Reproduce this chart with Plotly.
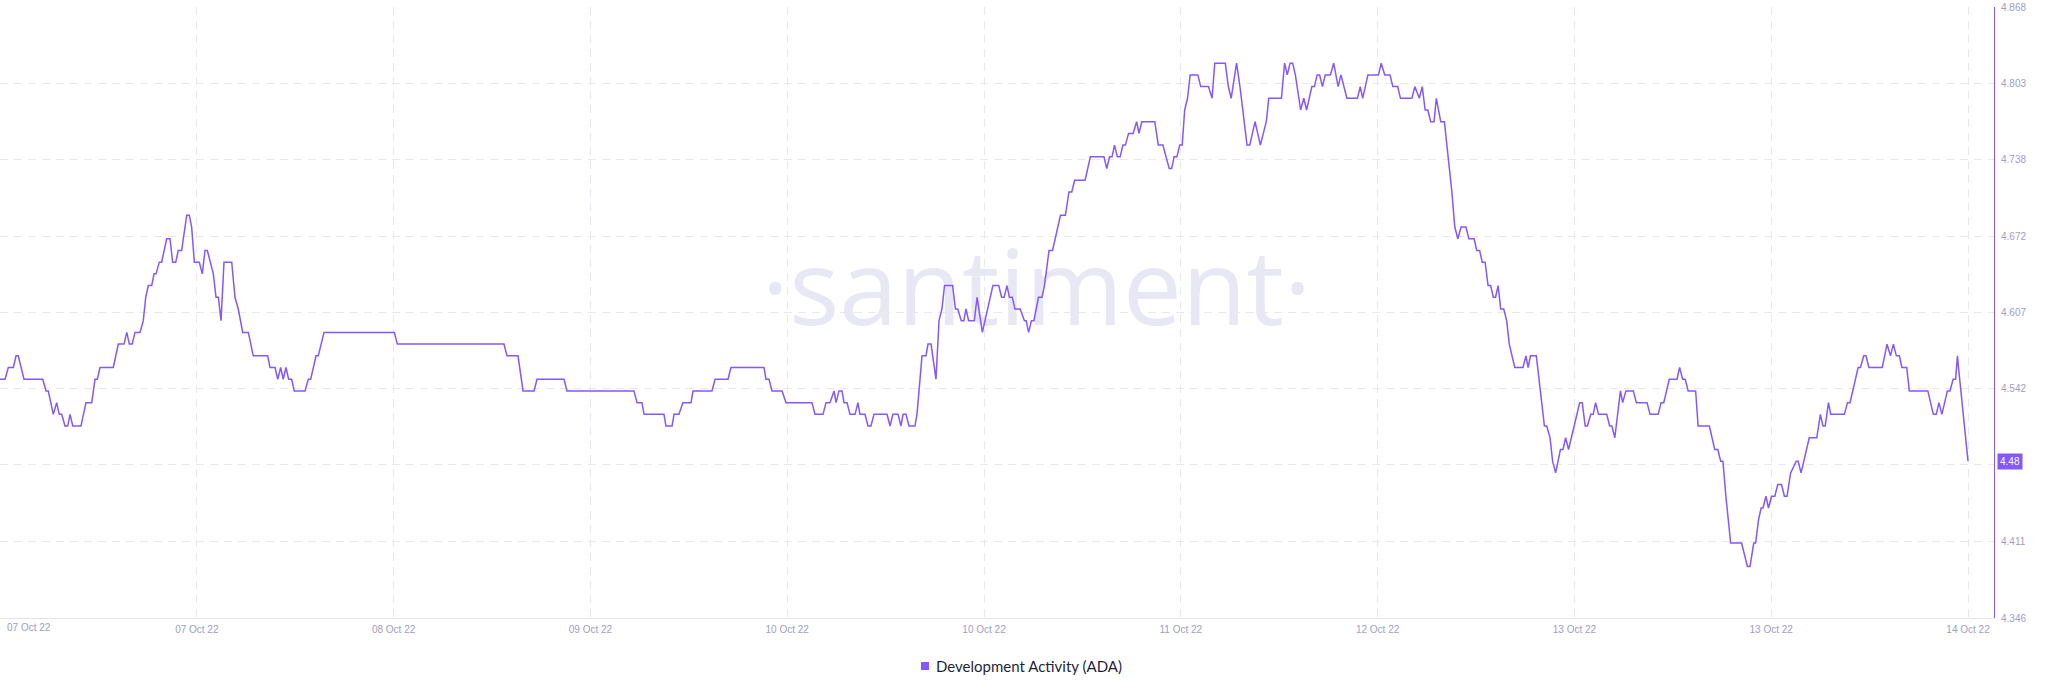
import pandas as pd
import plotly.graph_objects as go

# ---------------- data ----------------
START = "2022-10-07 06:00"

hours = [
    0.00, 0.43, 0.71, 1.14, 1.37, 1.56, 2.05, 3.65, 3.93, 4.12, 4.55, 4.84, 5.06, 5.27, 5.55, 5.78,
    5.98, 6.21, 6.91, 7.34, 7.83, 8.11, 8.31, 8.54, 9.67, 10.10, 10.59, 10.82, 11.04, 11.29, 11.52,
    11.95, 12.23, 12.44, 12.66, 12.95, 13.15, 13.32, 13.60, 13.80, 14.23, 14.51, 14.74, 15.00, 15.22,
    15.51, 15.65, 15.94, 16.16, 16.36, 16.59, 17.01, 17.27, 17.50, 17.70, 17.93, 18.21, 18.44, 18.64,
    18.87, 19.12, 19.78, 20.06, 20.34, 20.72, 21.20, 21.62, 22.85, 23.05, 23.48, 23.71, 23.96, 24.18,
    24.41, 24.64, 24.90, 25.12, 26.04, 26.32, 26.52, 26.98, 27.17, 27.66, 33.66, 33.92,
    43.02, 43.28, 44.22, 44.48, 44.65, 45.59, 45.84, 48.15, 48.40, 54.12, 54.38, 54.80, 54.98, 56.68,
    56.85, 57.37, 57.54, 57.96, 58.30, 58.99, 59.16, 60.78, 61.04, 62.15, 62.40, 65.22, 65.39, 65.65,
    65.90, 66.76, 67.10, 69.32, 69.57, 70.26, 70.51, 70.85, 71.20, 71.37, 71.62, 71.88, 72.05, 72.31,
    72.56, 72.99, 73.24, 73.41, 73.84, 74.10, 74.35, 74.61, 75.72, 75.98, 76.23, 76.66, 76.91, 77.09,
    77.34, 77.60, 78.11, 78.28, 78.71, 79.05, 79.22, 79.48, 79.90, 80.16, 80.41, 80.63,
    81.32, 81.56, 81.76, 82.06, 82.28, 82.46, 82.69, 83.17, 83.41, 83.86, 84.76, 85.26, 85.50, 85.72,
    85.96, 86.17, 86.41, 86.65, 87.09, 87.45, 87.60, 87.81, 88.05, 88.26, 88.65, 88.95, 89.16, 89.55,
    89.85, 90.53, 90.95, 91.25, 91.49, 91.74, 92.63, 93.08, 94.24, 94.48, 94.72, 94.93, 95.14, 95.38,
    95.62, 95.86, 96.07, 96.34, 96.73, 97.03, 97.23, 97.47, 98.58, 98.88, 99.27, 99.81, 100.02, 100.23,
    100.47, 100.71, 100.92, 101.13, 101.37, 101.60, 102.26, 102.50, 103.16, 103.47, 103.70, 104.60,
    104.86, 105.10, 105.56, 105.85, 106.45, 106.69, 107.14, 107.59, 108.10, 108.31, 109.39, 109.66,
    109.89, 110.13, 110.35, 110.58, 111.03, 111.30, 111.54, 111.99, 112.20, 112.44, 112.65, 112.89,
    113.13, 113.57, 113.85, 114.23, 114.47, 114.98, 115.88, 116.12, 116.33, 116.77, 117.67, 117.91,
    118.21, 118.66, 118.90, 119.32, 119.55, 120.53, 120.78, 121.16, 121.41, 121.66, 121.89, 122.13,
    122.42, 122.61, 122.99, 123.30, 123.62, 123.94, 124.19, 124.45, 124.73, 125.14, 125.39, 125.84,
    126.06, 126.31, 126.53, 126.78, 127.03, 127.25, 127.48, 127.67, 127.89, 128.11, 128.37, 128.62,
    128.84, 129.31, 130.01, 130.26, 130.45, 130.65, 131.15, 131.47, 131.84, 132.04, 132.32, 132.54,
    132.80, 133.21, 133.43, 133.65, 133.90, 134.38, 134.85, 135.07, 135.32, 135.51, 135.80, 136.01,
    136.21, 136.46, 137.16, 137.41, 137.60, 137.85, 138.33, 138.52, 138.80, 139.43, 139.69, 140.60,
    140.86, 141.55, 141.80, 142.03, 142.50, 143.16, 143.38, 143.64, 143.86, 144.11, 144.75, 144.96,
    145.92, 146.38, 146.64, 146.89, 147.08, 147.33, 147.74, 148.67, 149.17, 149.39, 149.71, 149.87,
    150.12, 150.34, 150.50, 150.75, 150.97, 151.23, 151.51, 151.76, 152.08, 152.33, 152.55, 152.86,
    153.34, 153.50, 153.75, 154.45, 155.09, 155.40, 155.62, 155.81, 156.09, 156.28, 157.45, 157.71,
    157.93, 158.62, 158.82, 159.10, 159.29, 159.54, 160.68, 161.09, 161.38, 161.63, 161.88, 162.14,
    162.36, 162.77, 162.99, 164.57, 165.04, 165.29, 165.52, 165.77, 166.24, 166.46, 166.73, 166.94,
    167.10, 167.19, 168.00,
]

values = [
    4.55, 4.55, 4.56, 4.56, 4.57, 4.57, 4.55, 4.55, 4.54, 4.54, 4.52, 4.53, 4.52, 4.52, 4.51, 4.51,
    4.52, 4.51, 4.51, 4.53, 4.53, 4.55, 4.55, 4.56, 4.56, 4.58, 4.58, 4.59, 4.58, 4.58, 4.59,
    4.59, 4.60, 4.62, 4.63, 4.63, 4.64, 4.64, 4.65, 4.65, 4.67, 4.67, 4.65, 4.65, 4.66,
    4.66, 4.67, 4.69, 4.69, 4.68, 4.65, 4.65, 4.64, 4.66, 4.66, 4.65, 4.64, 4.62, 4.62,
    4.60, 4.65, 4.65, 4.62, 4.61, 4.59, 4.59, 4.57, 4.57, 4.56, 4.56, 4.55, 4.56, 4.55,
    4.56, 4.55, 4.55, 4.54, 4.54, 4.55, 4.55, 4.57, 4.57, 4.59, 4.59, 4.58,
    4.58, 4.57, 4.57, 4.55, 4.54, 4.54, 4.55, 4.55, 4.54, 4.54, 4.53, 4.53, 4.52, 4.52,
    4.51, 4.51, 4.52, 4.52, 4.53, 4.53, 4.54, 4.54, 4.55, 4.55, 4.56, 4.56, 4.55, 4.55,
    4.54, 4.54, 4.53, 4.53, 4.52, 4.52, 4.53, 4.53, 4.54, 4.53, 4.54, 4.54, 4.53, 4.53,
    4.52, 4.52, 4.53, 4.52, 4.52, 4.51, 4.51, 4.52, 4.52, 4.51, 4.52, 4.52, 4.51, 4.52,
    4.52, 4.51, 4.51, 4.52, 4.57, 4.57, 4.58, 4.58, 4.55, 4.60, 4.61, 4.63,
    4.63, 4.61, 4.61, 4.60, 4.60, 4.61, 4.60, 4.60, 4.62, 4.59, 4.63, 4.63, 4.62, 4.62,
    4.63, 4.62, 4.62, 4.61, 4.61, 4.60, 4.60, 4.59, 4.60, 4.60, 4.62, 4.62, 4.63, 4.66,
    4.66, 4.69, 4.69, 4.71, 4.71, 4.72, 4.72, 4.74, 4.74, 4.73, 4.74, 4.74, 4.75, 4.74,
    4.74, 4.75, 4.75, 4.76, 4.76, 4.77, 4.76, 4.77, 4.77, 4.75, 4.75, 4.73, 4.73, 4.74,
    4.74, 4.75, 4.75, 4.78, 4.79, 4.81, 4.81, 4.80, 4.80, 4.79, 4.82, 4.82,
    4.80, 4.79, 4.82, 4.80, 4.75, 4.75, 4.77, 4.75, 4.77, 4.79, 4.79, 4.82,
    4.81, 4.82, 4.82, 4.81, 4.78, 4.79, 4.78, 4.80, 4.80, 4.81, 4.81, 4.80,
    4.81, 4.81, 4.82, 4.80, 4.81, 4.79, 4.79, 4.80, 4.79, 4.81, 4.81, 4.82,
    4.81, 4.81, 4.80, 4.80, 4.79, 4.79, 4.80, 4.79, 4.80, 4.78, 4.78, 4.77,
    4.77, 4.79, 4.77, 4.77, 4.74, 4.71, 4.68, 4.67, 4.68, 4.68, 4.67, 4.67,
    4.66, 4.66, 4.65, 4.65, 4.63, 4.63, 4.62, 4.62, 4.63, 4.61, 4.61, 4.60,
    4.58, 4.56, 4.56, 4.57, 4.56, 4.57, 4.57, 4.54, 4.51, 4.51, 4.50, 4.48,
    4.47, 4.49, 4.49, 4.50, 4.49, 4.51, 4.53, 4.53, 4.51, 4.51, 4.52, 4.52,
    4.53, 4.52, 4.52, 4.51, 4.51, 4.50, 4.54, 4.53, 4.54, 4.54, 4.53, 4.53,
    4.52, 4.52, 4.53, 4.53, 4.55, 4.55, 4.56, 4.55, 4.55, 4.54, 4.54, 4.51,
    4.51, 4.49, 4.49, 4.48, 4.48, 4.45, 4.41, 4.41, 4.39, 4.39, 4.41, 4.41,
    4.43, 4.44, 4.44, 4.45, 4.44, 4.45, 4.45, 4.46, 4.46, 4.45, 4.45, 4.47,
    4.48, 4.48, 4.47, 4.50, 4.50, 4.52, 4.51, 4.51, 4.53, 4.52, 4.52, 4.53,
    4.53, 4.56, 4.56, 4.57, 4.57, 4.56, 4.56, 4.58, 4.57, 4.58, 4.57, 4.57,
    4.56, 4.56, 4.54, 4.54, 4.52, 4.52, 4.53, 4.52, 4.54, 4.54, 4.55, 4.55,
    4.57, 4.56, 4.48,
]

y_tick_values = [4.346, 4.411, 4.477, 4.542, 4.607, 4.672, 4.738, 4.803, 4.868]
x_tick_labels = ["07 Oct 22", "07 Oct 22", "08 Oct 22", "09 Oct 22", "10 Oct 22", "10 Oct 22",
                 "11 Oct 22", "12 Oct 22", "13 Oct 22", "13 Oct 22", "14 Oct 22"]
series_name = "Development Activity (ADA)"
last_value_label = "4.48"

# ---------------- styling ----------------
PURPLE = "#8358ff"
GRID = "#e8e8f3"
TICK_COLOR = "#a09dc8"
TICK_FONT = "Liberation Sans"
W, H = 2048, 693
M_L, M_R, M_T, M_B = 0, 54, 7, 75
plot_w = W - M_L - M_R
plot_h = H - M_T - M_B
bottom_px = H - M_B


def px_x(px):
    return (px - M_L) / plot_w


def px_y(px):
    return (bottom_px - px) / plot_h


t0 = pd.Timestamp(START)
times = [t0 + pd.Timedelta(hours=h) for h in hours]
span = times[-1] - times[0]
tick_times = [t0 + span * k / 10 for k in range(len(x_tick_labels))]
data_px = 1968.0
x_end = t0 + span * (plot_w / data_px)

# the label of the tick hidden by the last-value badge is left blank
y_tick_text = ["" if abs(v - float(last_value_label)) < 0.01 else f"{v:.3f}" for v in y_tick_values]

fig = go.Figure()

# watermark (drawn first so the line passes over it)
fig.add_trace(go.Scatter(
    x=[t0 + span * (1036.5 / data_px)], y=[4.6185], mode="text",
    text=["·santiment·"], textposition="middle center",
    textfont=dict(family="Open Sans", size=105, color="#e7e8f4"),
    hoverinfo="skip", showlegend=False,
))

fig.add_trace(go.Scatter(
    x=times, y=values, mode="lines", name=series_name,
    line=dict(color=PURPLE, width=1.5), showlegend=False,
))

fig.update_layout(
    width=W, height=H,
    margin=dict(l=M_L, r=M_R, t=M_T, b=M_B, pad=0),
    paper_bgcolor="white", plot_bgcolor="white",
    showlegend=False,
    xaxis=dict(
        type="date", range=[t0, x_end],
        tickvals=tick_times, ticktext=[""] + x_tick_labels[1:],
        showgrid=True, gridcolor=GRID, griddash="8px,6px", gridwidth=1,
        showline=True, linecolor="#e4e4f0", linewidth=1,
        ticks="", ticklabelstandoff=2,
        tickfont=dict(family=TICK_FONT, size=10, color=TICK_COLOR),
        zeroline=False, fixedrange=True,
    ),
    yaxis=dict(
        side="right", range=[y_tick_values[0], y_tick_values[-1]],
        tickvals=y_tick_values, ticktext=y_tick_text,
        showgrid=True, gridcolor=GRID, griddash="8px,6px", gridwidth=1,
        showline=True, linecolor=PURPLE, linewidth=1,
        ticks="", ticklabelstandoff=4,
        tickfont=dict(family=TICK_FONT, size=10, color=TICK_COLOR),
        zeroline=False, fixedrange=True,
    ),
    shapes=[
        # legend swatch
        dict(type="rect", xref="paper", yref="paper",
             x0=px_x(921), x1=px_x(929), y0=px_y(670), y1=px_y(662),
             fillcolor=PURPLE, line=dict(width=0)),
    ],
    annotations=[
        dict(text=x_tick_labels[0], xref="paper", x=px_x(5), xanchor="left",
             yref="paper", y=px_y(628), yanchor="middle",
             showarrow=False, font=dict(family=TICK_FONT, size=10, color=TICK_COLOR)),
        dict(text=last_value_label, xref="paper", x=px_x(1997), xanchor="left",
             yref="y", y=values[-1], yanchor="middle", showarrow=False,
             bgcolor=PURPLE, borderpad=2,
             font=dict(family=TICK_FONT, size=10, color="white")),
        # legend text
        dict(text=series_name, xref="paper", x=px_x(934), xanchor="left",
             yref="paper", y=px_y(666), yanchor="middle", showarrow=False,
             font=dict(family="Lato", size=15, color="#1f1f3a")),
    ],
)

fig.write_html(
    "out.html",
    config={"displayModeBar": False},
    post_script="document.body.style.margin='0';document.body.style.overflow='hidden';",
)
